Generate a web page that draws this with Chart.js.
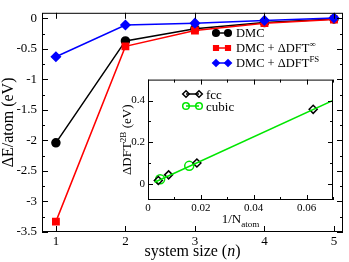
<!DOCTYPE html>
<html>
<head>
<meta charset="utf-8">
<script src="https://cdn.jsdelivr.net/npm/chart.js@4.4.0/dist/chart.umd.min.js"></script>
<style>
  html, body { margin: 0; padding: 0; background: #fff; }
  #wrap { position: relative; width: 349px; height: 262px; }
  #main { position: absolute; left: 0; top: 0; }
  #inset { position: absolute; left: 110px; top: 70px; }
</style>
</head>
<body>
<div id="wrap">
  <canvas id="main" width="349" height="262"></canvas>
  <canvas id="inset" width="235" height="160"></canvas>
</div>
<script>
// main panel
const sizes = [1, 2, 3, 4, 5];
const dmc = [-2.04, -0.37, -0.17, -0.07, -0.01];
const dmcInf = [-3.33, -0.46, -0.20, -0.08, -0.02];
const dmcFS = [-0.63, -0.11, -0.08, -0.035, 0.005];
const sizeTicks = [1, 2, 3, 4, 5];
const energyTicks = [0, -0.5, -1, -1.5, -2, -2.5, -3, -3.5];

// inset
const fccX = [0.0039, 0.0078, 0.0185, 0.0625];
const fccY = [0.018, 0.045, 0.102, 0.358];
const cubicX = [0.0046, 0.0156];
const cubicY = [0.024, 0.088];
const fitX = [0.0025, 0.07];
const fitY = [0.010, 0.400];
const invNTicks = [0, 0.02, 0.04, 0.06];
const dftTicks = [0, 0.2, 0.4];

const SERIF = '"Liberation Serif", "DejaVu Serif", serif';
Chart.defaults.font.family = SERIF;
Chart.defaults.color = '#000';

const pts = (xs, ys) => xs.map((x, i) => ({ x: x, y: ys[i] }));

// text with italic / superscript / subscript pieces
function richText(ctx, parts, x, y, size, align) {
  const fontFor = p => (p.i ? 'italic ' : '') + ((p.sup || p.sub) ? size * 0.7 : size) + 'px ' + SERIF;
  let w = 0;
  parts.forEach(p => { ctx.font = fontFor(p); p.w = ctx.measureText(p.t).width; w += p.w; });
  let cx = align === 'left' ? x : x - w / 2;
  ctx.fillStyle = '#000';
  ctx.textBaseline = 'alphabetic';
  ctx.textAlign = 'left';
  parts.forEach(p => {
    ctx.font = fontFor(p);
    const dy = p.sup ? -size * 0.42 : p.sub ? size * 0.3 : 0;
    ctx.fillText(p.t, cx, y + dy);
    cx += p.w;
  });
}

function line(ctx, x1, y1, x2, y2) {
  ctx.beginPath(); ctx.moveTo(x1, y1); ctx.lineTo(x2, y2); ctx.stroke();
}

function mids(arr) {
  const out = [];
  for (let i = 0; i < arr.length - 1; i++) out.push((arr[i] + arr[i + 1]) / 2);
  return out;
}

// box frame with inward ticks on all four sides
function drawFrame(chart, o) {
  const { ctx, chartArea: a, scales: { x, y } } = chart;
  ctx.save();
  ctx.strokeStyle = '#000';
  ctx.lineWidth = 1;
  ctx.strokeRect(a.left + 0.5, a.top + 0.5, a.right - a.left - 1, a.bottom - a.top - 1);
  const xt = (vals, L) => vals.forEach(v => {
    const px = Math.round(x.getPixelForValue(v)) + 0.5;
    line(ctx, px, a.bottom, px, a.bottom - L);
    line(ctx, px, a.top, px, a.top + L);
  });
  const yt = (vals, L) => vals.forEach(v => {
    const py = Math.round(y.getPixelForValue(v)) + 0.5;
    line(ctx, a.left, py, a.left + L, py);
    line(ctx, a.right, py, a.right - L, py);
  });
  xt(o.xMajor, o.major); xt(o.xMinor, o.minor);
  yt(o.yMajor, o.major); yt(o.yMinor, o.minor);
  ctx.restore();
}

function drawLegend(ctx, items, x0, x1, tx, y0, dy, size, r) {
  items.forEach((it, i) => {
    const y = y0 + i * dy;
    const ds = it.ds;
    ctx.save();
    ctx.strokeStyle = ds.borderColor;
    ctx.lineWidth = 1.5;
    line(ctx, x0, y, x1, y);
    ctx.fillStyle = ds.pointBackgroundColor || ds.backgroundColor;
    ctx.strokeStyle = ds.borderColor;
    [x0, x1].forEach(px => Chart.helpers.drawPoint(ctx, {
      pointStyle: ds.pointStyle, radius: r, borderWidth: ds.pointBorderWidth || 1, rotation: 0
    }, px, y));
    ctx.restore();
    richText(ctx, it.parts, tx, y + size * 0.35, size, 'left');
  });
}

const mainOverlay = {
  id: 'mainOverlay',
  afterDraw(chart) {
    const ctx = chart.ctx, a = chart.chartArea;
    drawFrame(chart, {
      xMajor: sizeTicks, xMinor: [],
      yMajor: energyTicks, yMinor: mids(energyTicks),
      major: 6, minor: 3
    });
    richText(ctx, [{ t: 'system size (' }, { t: 'n', i: true }, { t: ')' }], (a.left + a.right) / 2, 256, 16);
    ctx.save();
    ctx.translate(13, (a.top + a.bottom) / 2);
    ctx.rotate(-Math.PI / 2);
    richText(ctx, [{ t: 'ΔE/atom (eV)' }], 0, 0, 16);
    ctx.restore();
    const ds = chart.data.datasets;
    drawLegend(ctx, [
      { ds: ds[0], parts: [{ t: 'DMC' }] },
      { ds: ds[1], parts: [{ t: 'DMC + ΔDFT' }, { t: '∞', sup: true }] },
      { ds: ds[2], parts: [{ t: 'DMC + ΔDFT' }, { t: 'FS', sup: true }] }
    ], 216, 228, 236, 33, 15, 12.5, 3.3);
  }
};

new Chart(document.getElementById('main'), {
  type: 'line',
  data: {
    datasets: [{
      label: 'DMC',
      data: pts(sizes, dmc),
      borderColor: '#000000',
      backgroundColor: '#000000',
      pointStyle: 'circle',
      pointRadius: 4,
      borderWidth: 1.5,
      order: 3
    }, {
      label: 'DMC + ΔDFT∞',
      data: pts(sizes, dmcInf),
      borderColor: '#ff0000',
      backgroundColor: '#ff0000',
      pointStyle: 'rect',
      pointRadius: 4.5,
      borderWidth: 1.5,
      order: 2
    }, {
      label: 'DMC + ΔDFT FS',
      data: pts(sizes, dmcFS),
      borderColor: '#0000ff',
      backgroundColor: '#0000ff',
      pointStyle: 'rectRot',
      pointRadius: 4.5,
      borderWidth: 1.5,
      order: 1
    }]
  },
  options: {
    responsive: false,
    animation: false,
    layout: { padding: { left: 0, top: 1, right: 6, bottom: 0 } },
    plugins: { legend: { display: false }, tooltip: { enabled: false } },
    elements: { line: { tension: 0 } },
    scales: {
      x: {
        type: 'linear',
        min: 0.8,
        max: 5.13,
        grid: { display: false, drawTicks: false },
        border: { display: false },
        afterBuildTicks: s => { s.ticks = sizeTicks.map(v => ({ value: v })); },
        afterFit: s => { s.height = 30; },
        ticks: { font: { size: 13 }, padding: 2, maxRotation: 0, callback: v => String(v) }
      },
      y: {
        min: -3.5,
        max: 0.09,
        grid: { display: false, drawTicks: false },
        border: { display: false },
        afterBuildTicks: s => { s.ticks = energyTicks.map(v => ({ value: v })); },
        afterFit: s => { s.width = 42; },
        ticks: { font: { size: 13 }, padding: 5, callback: v => String(v) }
      }
    }
  },
  plugins: [mainOverlay]
});

const insetOverlay = {
  id: 'insetOverlay',
  afterDraw(chart) {
    const ctx = chart.ctx, a = chart.chartArea;
    drawFrame(chart, {
      xMajor: invNTicks, xMinor: mids(invNTicks).concat([0.07]),
      yMajor: dftTicks, yMinor: mids(dftTicks),
      major: 5, minor: 3
    });
    richText(ctx, [{ t: '1/N' }, { t: 'atom', sub: true }], (a.left + a.right) / 2, 153, 13);
    ctx.save();
    ctx.translate(21, (a.top + a.bottom) / 2);
    ctx.rotate(-Math.PI / 2);
    richText(ctx, [{ t: 'ΔDFT' }, { t: '2B', sup: true }, { t: ' (eV)' }], 0, 0, 13);
    ctx.restore();
    const ds = chart.data.datasets;
    drawLegend(ctx, [
      { ds: ds[1], parts: [{ t: 'fcc' }] },
      { ds: ds[2], parts: [{ t: 'cubic' }] }
    ], 76, 89, 96, 24, 12, 13, 3.3);
  }
};

new Chart(document.getElementById('inset'), {
  type: 'scatter',
  data: {
    datasets: [{
      label: 'fit',
      data: pts(fitX, fitY),
      showLine: true,
      borderColor: '#00e600',
      borderWidth: 1.5,
      pointRadius: 0
    }, {
      label: 'fcc',
      data: pts(fccX, fccY),
      borderColor: '#000000',
      pointBackgroundColor: 'rgba(0,0,0,0)',
      backgroundColor: 'rgba(0,0,0,0)',
      pointStyle: 'rectRot',
      pointRadius: 4,
      pointBorderWidth: 1.5
    }, {
      label: 'cubic',
      data: pts(cubicX, cubicY),
      borderColor: '#00e600',
      pointBackgroundColor: 'rgba(0,0,0,0)',
      backgroundColor: 'rgba(0,0,0,0)',
      pointStyle: 'circle',
      pointRadius: 4.5,
      pointBorderWidth: 1.5
    }]
  },
  options: {
    responsive: false,
    animation: false,
    layout: { padding: { left: 0, top: 7, right: 12, bottom: 0 } },
    plugins: { legend: { display: false }, tooltip: { enabled: false } },
    scales: {
      x: {
        type: 'linear',
        min: 0,
        max: 0.07,
        grid: { display: false, drawTicks: false },
        border: { display: false },
        afterBuildTicks: s => { s.ticks = invNTicks.map(v => ({ value: v })); },
        afterFit: s => { s.height = 30; },
        ticks: { font: { size: 11 }, padding: 2, maxRotation: 0, callback: v => String(v) }
      },
      y: {
        min: -0.075,
        max: 0.5,
        grid: { display: false, drawTicks: false },
        border: { display: false },
        afterBuildTicks: s => { s.ticks = dftTicks.map(v => ({ value: v })); },
        afterFit: s => { s.width = 38; },
        ticks: { font: { size: 11 }, padding: 3, callback: v => String(v) }
      }
    }
  },
  plugins: [insetOverlay]
});
</script>
</body>
</html>
